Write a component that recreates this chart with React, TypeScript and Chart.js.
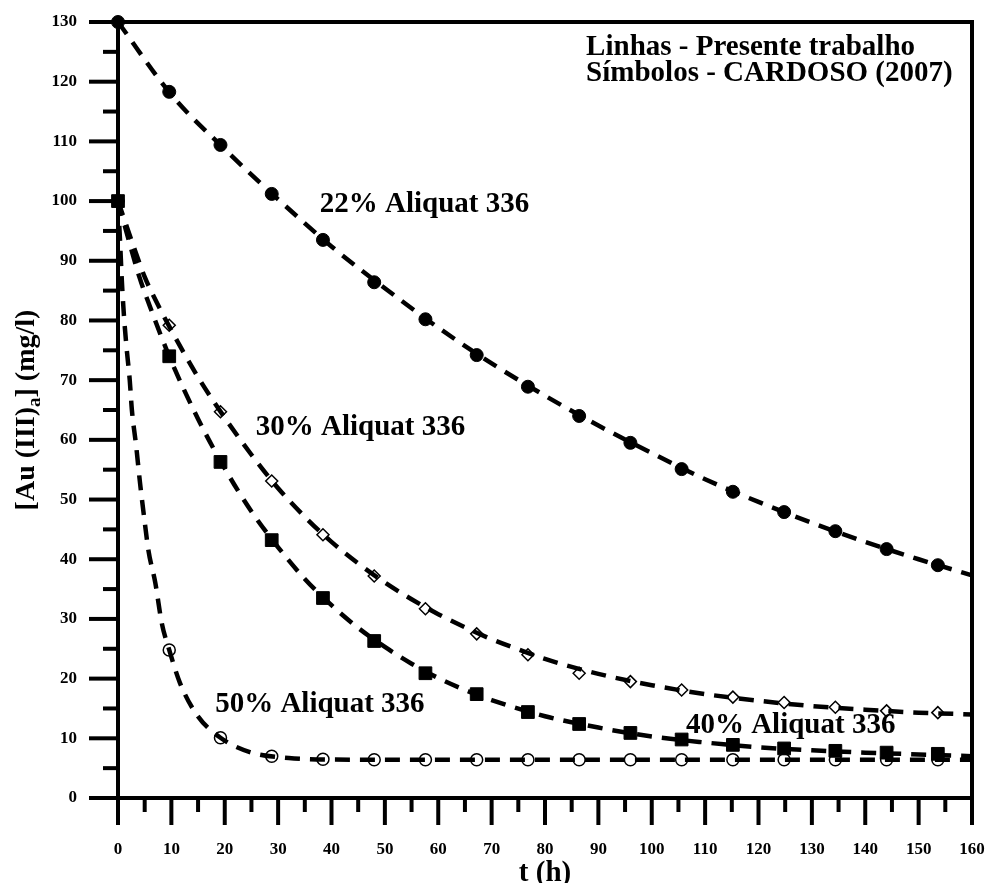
import React, { useEffect, useRef } from "react";
import { Chart, registerables } from "chart.js";

Chart.register(...registerables);

// ---- Data ----
const sampleTimes = [0, 9.6, 19.2, 28.8, 38.4, 48, 57.6, 67.2, 76.8, 86.4, 96, 105.6, 115.2, 124.8, 134.4, 144, 153.6];

const symbols22 = [130, 118.3, 109.4, 101.2, 93.5, 86.4, 80.2, 74.2, 68.9, 64.0, 59.5, 55.1, 51.3, 47.9, 44.7, 41.7, 39.0];
const symbols30 = [100, 79.2, 64.7, 53.1, 44.1, 37.2, 31.7, 27.5, 24.0, 20.9, 19.5, 18.1, 16.9, 16.0, 15.2, 14.6, 14.3];
const symbols40 = [100, 74.0, 56.3, 43.2, 33.5, 26.3, 20.9, 17.4, 14.4, 12.4, 10.9, 9.8, 8.9, 8.3, 7.9, 7.6, 7.4];
const symbols50 = [100, 24.8, 10.1, 7.0, 6.5, 6.4, 6.4, 6.4, 6.4, 6.4, 6.4, 6.4, 6.4, 6.4, 6.4, 6.4, 6.4];

const line22X = [0, 10, 20, 30, 40, 50, 60, 70, 80, 90, 100, 110, 120, 130, 140, 150, 160];
const line22Y = [130, 117.8, 108.7, 100.3, 92.4, 85.4, 78.8, 72.8, 67.4, 62.4, 57.8, 53.4, 49.6, 46.1, 42.9, 40.0, 37.3];

const line30X = [0, 2.5, 5, 7.5, 9.6, 15, 20, 25, 30, 35, 40, 45, 50, 55, 60, 65, 70, 75, 80, 90, 100, 110, 120, 130, 140, 150, 160];
const line30Y = [100, 93.5, 87.3, 82.6, 79.0, 70.5, 63.7, 57.5, 51.9, 47.1, 42.9, 39.3, 36.1, 33.3, 30.8, 28.6, 26.6, 24.9, 23.3, 20.8, 18.9, 17.4, 16.3, 15.4, 14.8, 14.3, 14.0];

const line40X = [0, 2, 4, 6, 9.6, 15, 20, 25, 30, 35, 40, 45, 50, 55, 60, 65, 70, 80, 90, 100, 110, 120, 130, 140, 150, 160];
const line40Y = [100, 93.5, 87.3, 82.3, 74.0, 63.5, 55.2, 48.0, 42.0, 36.7, 32.3, 28.5, 25.3, 22.5, 20.1, 18.1, 16.4, 13.7, 11.8, 10.3, 9.3, 8.5, 8.0, 7.6, 7.3, 7.0];

const line50X = [0, 0.4, 0.7, 1.1, 1.6, 2.2, 2.6, 3.4, 4.1, 4.9, 5.7, 7.0, 8.2, 9.6, 11.6, 14.8, 19.2, 24.7, 32, 40, 60, 100, 160];
const line50Y = [100, 93, 87, 81, 75.5, 70, 65, 59, 53, 47, 41.5, 36, 29.3, 24.8, 19.3, 13.9, 10.1, 7.7, 6.7, 6.45, 6.4, 6.4, 6.4];

const curveLabels = ["22% Aliquat 336", "30% Aliquat 336", "50% Aliquat 336", "40% Aliquat 336"];
const curveLabelX = [37.8, 25.8, 18.2, 106.4];
const curveLabelY = [99.5, 62, 15.6, 12.2];

const noteLines = ["Linhas - Presente trabalho", "Símbolos - CARDOSO (2007)"];
const noteX = [87.7, 87.7];
const noteY = [125.8, 121.3];

const xTitle = "t (h)";
const yTitleMain = "[Au (III)";
const yTitleSub = "a";
const yTitleEnd = "] (mg/l)";

const FONT = "'Liberation Serif', 'Times New Roman', serif";

const pts = (xs: number[], ys: number[]) => xs.map((x, i) => ({ x, y: ys[i] }));

const lineDs = (xs: number[], ys: number[]) => ({
  type: "line" as const,
  data: pts(xs, ys),
  borderColor: "#000",
  borderWidth: 4.5,
  borderDash: [15, 10],
  pointRadius: 0,
  fill: false,
  cubicInterpolationMode: "monotone" as const,
  clip: false as any,
  order: 0,
});

const symDs = (ys: number[], style: string, radius: number, filled: boolean, order: number) => ({
  type: "line" as const,
  data: pts(sampleTimes, ys),
  showLine: false,
  pointStyle: style,
  pointRadius: radius,
  pointBackgroundColor: filled ? "#000" : "#fff",
  pointBorderColor: "#000",
  pointBorderWidth: filled ? 1 : 1.5,
  clip: false as any,
  order,
});

const decorPlugin = {
  id: "decor",
  afterDatasetsDraw(chart: any) {
    const ctx = chart.ctx;
    const xs = chart.scales.x;
    const ys = chart.scales.y;
    ctx.save();
    ctx.fillStyle = "#000";
    ctx.textBaseline = "middle";
    ctx.textAlign = "left";
    ctx.font = `bold 29px ${FONT}`;
    curveLabels.forEach((t, i) => {
      ctx.fillText(t, xs.getPixelForValue(curveLabelX[i]), ys.getPixelForValue(curveLabelY[i]));
    });
    noteLines.forEach((t, i) => {
      ctx.fillText(t, xs.getPixelForValue(noteX[i]), ys.getPixelForValue(noteY[i]));
    });
    ctx.restore();
  },
  afterDraw(chart: any) {
    const ctx = chart.ctx;
    const a = chart.chartArea;
    const xs = chart.scales.x;
    const ys = chart.scales.y;
    ctx.save();
    ctx.strokeStyle = "#000";
    ctx.lineCap = "butt";
    // frame
    ctx.lineWidth = 4;
    ctx.strokeRect(a.left, a.top, a.right - a.left, a.bottom - a.top);
    // x ticks
    for (let v = 0; v <= 160; v += 5) {
      const px = xs.getPixelForValue(v);
      const len = v % 10 === 0 ? 27 : 14;
      ctx.beginPath();
      ctx.moveTo(px, a.bottom);
      ctx.lineTo(px, a.bottom + len);
      ctx.stroke();
    }
    // y ticks
    for (let v = 0; v <= 130; v += 5) {
      const py = ys.getPixelForValue(v);
      const len = v % 10 === 0 ? 29 : 15;
      ctx.beginPath();
      ctx.moveTo(a.left, py);
      ctx.lineTo(a.left - len, py);
      ctx.stroke();
    }
    // x title
    ctx.fillStyle = "#000";
    ctx.font = `bold 29px ${FONT}`;
    ctx.textAlign = "center";
    ctx.textBaseline = "middle";
    ctx.fillText(xTitle, (a.left + a.right) / 2, 874);
    // y title with subscript
    ctx.translate(25, (a.top + a.bottom) / 2);
    ctx.rotate(-Math.PI / 2);
    const mainFont = `bold 28px ${FONT}`;
    const subFont = `bold 19px ${FONT}`;
    ctx.font = mainFont;
    const w1 = ctx.measureText(yTitleMain).width;
    const w3 = ctx.measureText(yTitleEnd).width;
    ctx.font = subFont;
    const w2 = ctx.measureText(yTitleSub).width;
    const total = w1 + w2 + w3;
    let x0 = -total / 2;
    ctx.textAlign = "left";
    ctx.textBaseline = "alphabetic";
    ctx.font = mainFont;
    ctx.fillText(yTitleMain, x0, 9);
    x0 += w1;
    ctx.font = subFont;
    ctx.fillText(yTitleSub, x0, 15);
    x0 += w2;
    ctx.font = mainFont;
    ctx.fillText(yTitleEnd, x0, 9);
    ctx.restore();
  },
};

export default function App() {
  const ref = useRef<HTMLCanvasElement | null>(null);
  useEffect(() => {
    if (!ref.current) return;
    const chart = new Chart(ref.current, {
      type: "line",
      data: {
        datasets: [
          lineDs(line22X, line22Y),
          lineDs(line30X, line30Y),
          lineDs(line40X, line40Y),
          lineDs(line50X, line50Y),
          symDs(symbols40, "rect", 9, true, 1),
          symDs(symbols22, "circle", 6.5, true, 2),
          symDs(symbols30, "rectRot", 6, false, 2),
          symDs(symbols50, "circle", 6, false, 2),
        ] as any,
      },
      options: {
        responsive: false,
        animation: false,
        devicePixelRatio: 1,
        layout: { padding: { left: 0, top: 22, right: 16, bottom: 0 } },
        plugins: { legend: { display: false }, tooltip: { enabled: false } },
        events: [],
        scales: {
          x: {
            type: "linear",
            min: 0,
            max: 160,
            grid: { display: false, drawTicks: false },
            border: { display: false },
            ticks: {
              stepSize: 10,
              padding: 41,
              color: "#000",
              font: { family: FONT, weight: "bold", size: 17 },
              maxRotation: 0,
              autoSkip: false,
            },
            afterFit: (s: any) => {
              s.height = 85;
              s.paddingLeft = 0;
              s.paddingRight = 0;
            },
          },
          y: {
            type: "linear",
            min: 0,
            max: 130,
            grid: { display: false, drawTicks: false },
            border: { display: false },
            ticks: {
              stepSize: 10,
              padding: 41,
              color: "#000",
              font: { family: FONT, weight: "bold", size: 17 },
              autoSkip: false,
            },
            afterFit: (s: any) => {
              s.width = 118;
              s.paddingTop = 0;
              s.paddingBottom = 0;
            },
          },
        },
      },
      plugins: [decorPlugin],
    });
    return () => chart.destroy();
  }, []);
  return (
    <div style={{ position: "absolute", left: 0, top: 0, width: 988, height: 883, background: "#fff" }}>
      <canvas ref={ref} width={988} height={883} style={{ display: "block" }} />
    </div>
  );
}
